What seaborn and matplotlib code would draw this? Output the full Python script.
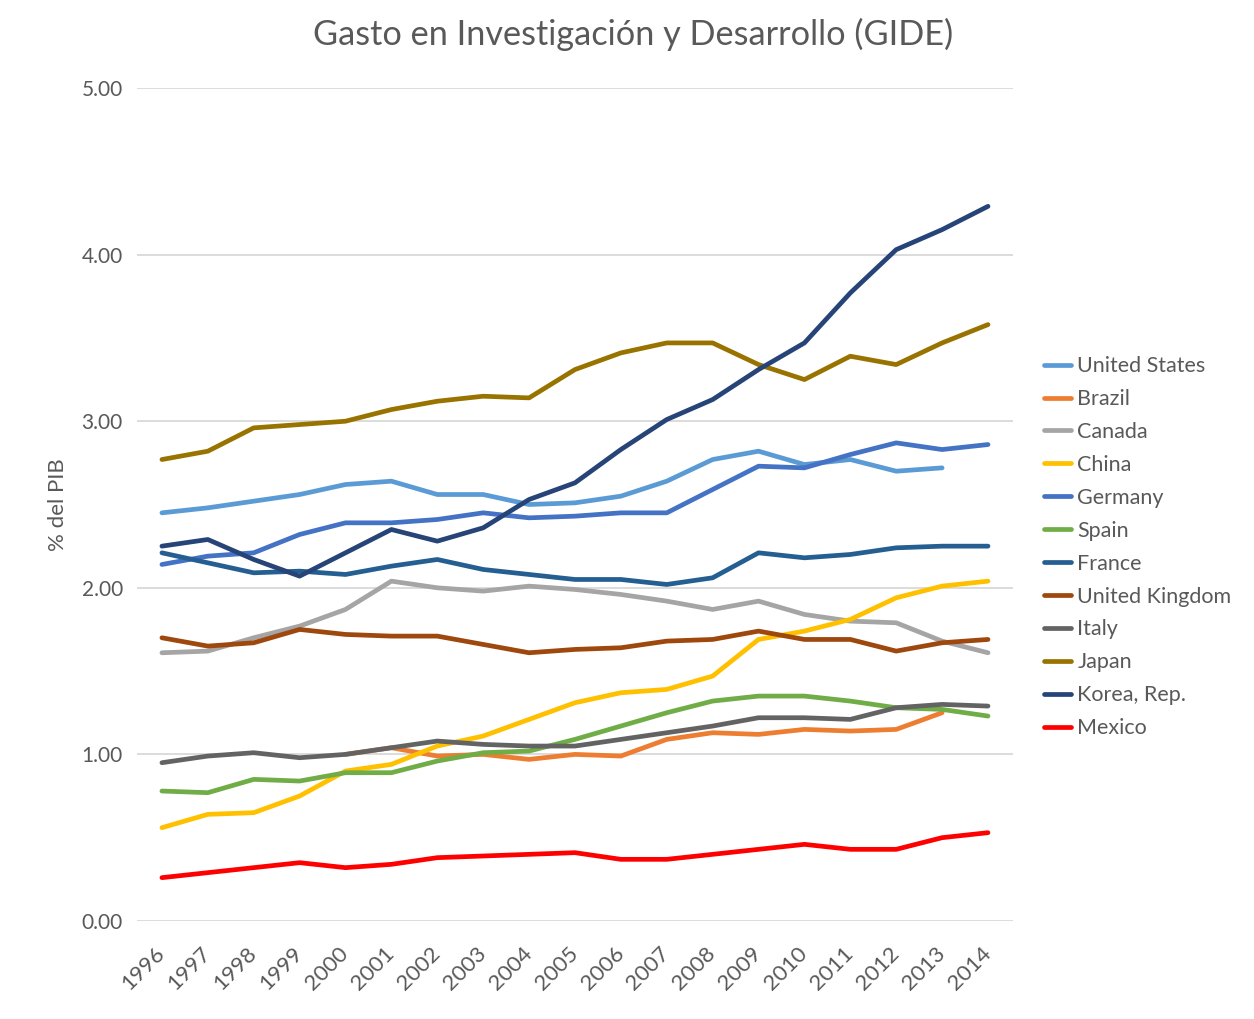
import numpy as np
import pandas as pd
import matplotlib
matplotlib.use("Agg")
import matplotlib.pyplot as plt
import seaborn as sns

# Gasto en I+D (% del PIB)
years = list(range(1996, 2015))
nan = np.nan

united_states = [2.45, 2.48, 2.52, 2.56, 2.62, 2.64, 2.56, 2.56, 2.50, 2.51, 2.55, 2.64, 2.77, 2.82, 2.74, 2.77, 2.70, 2.72, nan]
brazil = [nan, nan, nan, nan, 1.00, 1.04, 0.99, 1.00, 0.97, 1.00, 0.99, 1.09, 1.13, 1.12, 1.15, 1.14, 1.15, 1.25, nan]
canada = [1.61, 1.62, 1.70, 1.77, 1.87, 2.04, 2.00, 1.98, 2.01, 1.99, 1.96, 1.92, 1.87, 1.92, 1.84, 1.80, 1.79, 1.68, 1.61]
china = [0.56, 0.64, 0.65, 0.75, 0.90, 0.94, 1.05, 1.11, 1.21, 1.31, 1.37, 1.39, 1.47, 1.69, 1.74, 1.81, 1.94, 2.01, 2.04]
germany = [2.14, 2.19, 2.21, 2.32, 2.39, 2.39, 2.41, 2.45, 2.42, 2.43, 2.45, 2.45, 2.59, 2.73, 2.72, 2.80, 2.87, 2.83, 2.86]
spain = [0.78, 0.77, 0.85, 0.84, 0.89, 0.89, 0.96, 1.01, 1.02, 1.09, 1.17, 1.25, 1.32, 1.35, 1.35, 1.32, 1.28, 1.27, 1.23]
france = [2.21, 2.15, 2.09, 2.10, 2.08, 2.13, 2.17, 2.11, 2.08, 2.05, 2.05, 2.02, 2.06, 2.21, 2.18, 2.20, 2.24, 2.25, 2.25]
united_kingdom = [1.70, 1.65, 1.67, 1.75, 1.72, 1.71, 1.71, 1.66, 1.61, 1.63, 1.64, 1.68, 1.69, 1.74, 1.69, 1.69, 1.62, 1.67, 1.69]
italy = [0.95, 0.99, 1.01, 0.98, 1.00, 1.04, 1.08, 1.06, 1.05, 1.05, 1.09, 1.13, 1.17, 1.22, 1.22, 1.21, 1.28, 1.30, 1.29]
japan = [2.77, 2.82, 2.96, 2.98, 3.00, 3.07, 3.12, 3.15, 3.14, 3.31, 3.41, 3.47, 3.47, 3.34, 3.25, 3.39, 3.34, 3.47, 3.58]
korea = [2.25, 2.29, 2.17, 2.07, 2.21, 2.35, 2.28, 2.36, 2.53, 2.63, 2.83, 3.01, 3.13, 3.31, 3.47, 3.77, 4.03, 4.15, 4.29]
mexico = [0.26, 0.29, 0.32, 0.35, 0.32, 0.34, 0.38, 0.39, 0.40, 0.41, 0.37, 0.37, 0.40, 0.43, 0.46, 0.43, 0.43, 0.50, 0.53]

countries = ["United States", "Brazil", "Canada", "China", "Germany", "Spain",
             "France", "United Kingdom", "Italy", "Japan", "Korea, Rep.", "Mexico"]
series = [united_states, brazil, canada, china, germany, spain,
          france, united_kingdom, italy, japan, korea, mexico]
colors = ["#5B9BD5", "#ED7D31", "#A5A5A5", "#FFC000", "#4472C4", "#70AD47",
          "#255E91", "#9E480E", "#636363", "#997300", "#264478", "#FF0000"]

# long format for seaborn
df = pd.DataFrame({c: v for c, v in zip(countries, series)}, index=years)
df.index.name = "year"
df = df.reset_index().melt(id_vars="year", var_name="country", value_name="gide")

sns.set_style("white")
plt.rcParams["font.family"] = ["Lato", "DejaVu Sans"]
txt = "#595959"

fig = plt.figure(figsize=(12.54, 10.19), dpi=100)
ax = fig.add_axes([0.109, 0.0962, 0.699, 0.8174])

sns.lineplot(data=df, x="year", y="gide", hue="country", hue_order=countries,
             palette=dict(zip(countries, colors)), linewidth=3.4, ax=ax)

ax.set_ylim(0, 5)
ax.set_xlim(1995.45, 2014.55)
ax.set_yticks(np.arange(0, 5.01, 1))
ax.set_yticklabels([f"{v:.2f}" for v in np.arange(0, 5.01, 1)], fontsize=15, color=txt)
ax.set_xticks(years)
ax.set_xticklabels([str(y) for y in years], rotation=45, ha="right", va="center",
                   rotation_mode="anchor", fontsize=16, color=txt)
ax.tick_params(axis="y", length=0, pad=10)
ax.tick_params(axis="x", length=0, pad=21)
ax.yaxis.grid(True, color="#D9D9D9", linewidth=1.3)
ax.set_axisbelow(True)
for s in ["top", "right", "left", "bottom"]:
    ax.spines[s].set_visible(False)

ax.set_xlabel("")
ax.set_ylabel("% del PIB", fontsize=16, color=txt, labelpad=10)
fig.suptitle("Gasto en Investigación y Desarrollo (GIDE)", fontsize=24.7, color=txt,
             x=0.505, y=0.982)

h, l = ax.get_legend_handles_labels()
ax.legend(h, l, loc="center left", bbox_to_anchor=(0.817, 0.463),
          bbox_transform=fig.transFigure, frameon=False, fontsize=15.5,
          labelcolor=txt, labelspacing=0.6, handlelength=1.25, handletextpad=0.3)

fig.savefig("out.png", dpi=100)
